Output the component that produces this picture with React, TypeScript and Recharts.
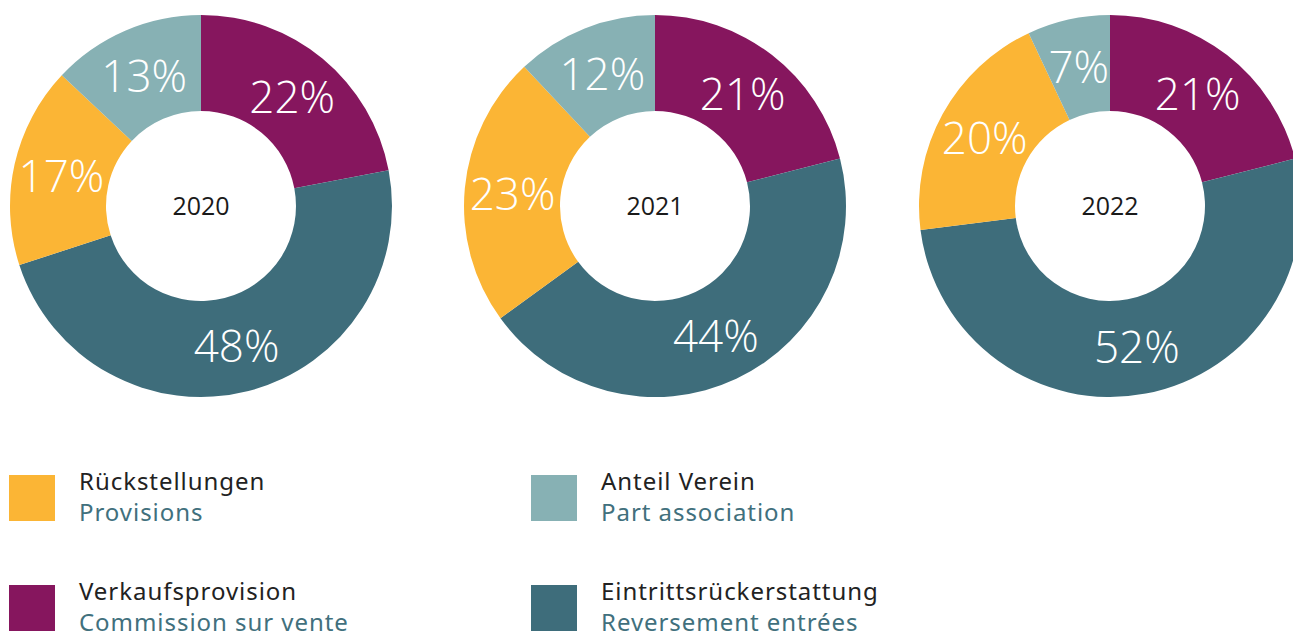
import { Pie, PieChart } from "recharts";

const years = ["2020", "2021", "2022"];
const categories = ["Verkaufsprovision", "Eintrittsrückerstattung", "Rückstellungen", "Anteil Verein"];
const share2020 = [22, 48, 17, 13];
const share2021 = [21, 44, 23, 12];
const share2022 = [21, 52, 20, 7];

const legendTitles = ["Rückstellungen", "Anteil Verein", "Verkaufsprovision", "Eintrittsrückerstattung"];
const legendSubtitles = ["Provisions", "Part association", "Commission sur vente", "Reversement entrées"];

const COLORS: Record<string, string> = {
  Verkaufsprovision: "#86165e",
  Eintrittsrückerstattung: "#3e6d7b",
  Rückstellungen: "#fbb535",
  "Anteil Verein": "#87b1b4",
};

const RADIAN = Math.PI / 180;
const PIE_CX = [201, 655, 1110];
const PIE_CY = 206;

function toRows(values: number[]) {
  return values.map((value, i) => ({
    name: categories[i],
    value,
    fill: COLORS[categories[i]],
  }));
}

function renderPercent(props: any) {
  const { cx, cy, midAngle, innerRadius, outerRadius, value } = props;
  const r = (innerRadius + outerRadius) / 2;
  const x = cx + r * Math.cos(-midAngle * RADIAN);
  const y = cy + r * Math.sin(-midAngle * RADIAN);
  return (
    <text
      x={x}
      y={y}
      fill="#ffffff"
      textAnchor="middle"
      dominantBaseline="central"
      fontFamily="'Open Sans', sans-serif"
      fontWeight={300}
      fontSize={44}
    >
      {`${value}%`}
    </text>
  );
}

const series = [share2020, share2021, share2022];

export default function App() {
  return (
    <div
      style={{
        position: "fixed",
        left: 0,
        top: 0,
        width: 1293,
        height: 632,
        overflow: "hidden",
        background: "#ffffff",
      }}
    >
      <PieChart width={1293} height={420} margin={{ top: 0, right: 0, bottom: 0, left: 0 }}>
        {series.map((values, idx) => (
          <Pie
            key={years[idx]}
            data={toRows(values)}
            dataKey="value"
            nameKey="name"
            cx={PIE_CX[idx]}
            cy={PIE_CY}
            innerRadius={95}
            outerRadius={191}
            startAngle={90}
            endAngle={-270}
            stroke="none"
            labelLine={false}
            label={renderPercent}
            isAnimationActive={false}
          />
        ))}
      </PieChart>
      {years.map((year, idx) => (
        <div
          key={year}
          style={{
            position: "absolute",
            left: PIE_CX[idx] - 60,
            top: PIE_CY - 21,
            width: 120,
            height: 40,
            lineHeight: "40px",
            textAlign: "center",
            fontFamily: "'Open Sans', sans-serif",
            fontSize: 25,
            color: "#1a1a1a",
          }}
        >
          {year}
        </div>
      ))}
      {legendTitles.map((title, i) => {
        const col = i % 2;
        const row = Math.floor(i / 2);
        const left = col === 0 ? 9 : 531;
        const top = row === 0 ? 475 : 585;
        return (
          <div key={title}>
            <div
              style={{
                position: "absolute",
                left,
                top,
                width: 46,
                height: 46,
                background: COLORS[title],
              }}
            />
            <div
              style={{
                position: "absolute",
                left: left + 70,
                top: top - 10,
                fontFamily: "'Noto Sans', sans-serif",
                fontSize: 24,
                letterSpacing: 0.95,
                lineHeight: "31px",
                whiteSpace: "nowrap",
              }}
            >
              <div style={{ color: "#222222" }}>{title}</div>
              <div style={{ color: "#41707d" }}>{legendSubtitles[i]}</div>
            </div>
          </div>
        );
      })}
    </div>
  );
}
